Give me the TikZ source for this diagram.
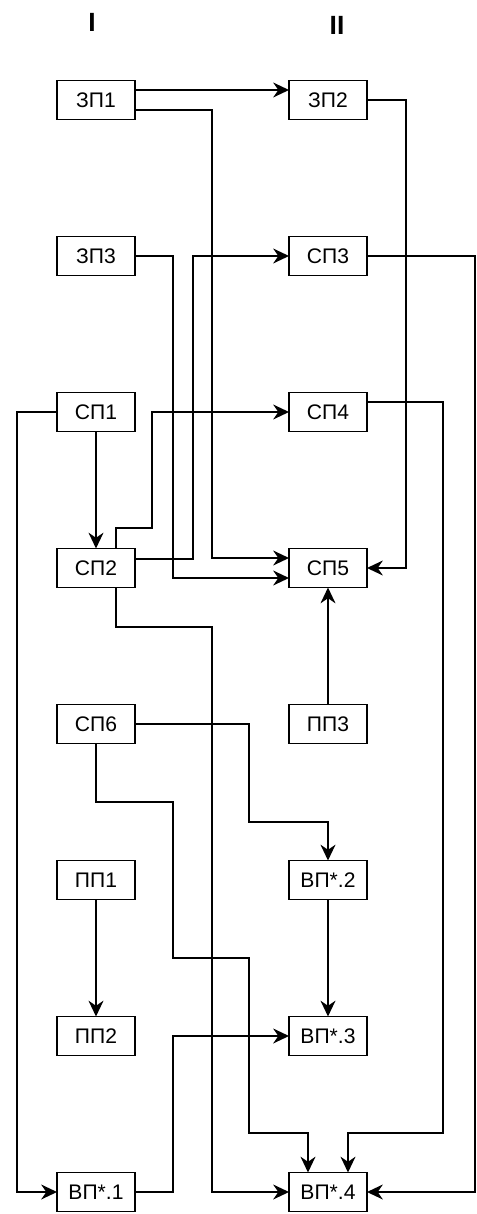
\documentclass[tikz,border=0pt]{standalone}
\usepackage{fontspec}
\setmainfont{Liberation Sans}
\usetikzlibrary{arrows.meta, positioning}
\tikzset{
    box/.style={rectangle, draw, line width=1pt, outer sep=0pt, minimum width=1.56cm, minimum height=0.78cm, text centered, font=\fontsize{12}{14}\selectfont},
    arrow/.style={line width=1pt,-{Stealth[length=9pt,width=8.5pt]}},
    head/.style={font=\fontsize{15}{18}\selectfont\bfseries}
}

\begin{document}
\begin{tikzpicture}[node distance=2.34cm and 3.08cm]
    \useasboundingbox (0,0) rectangle (9.54,-24.28);
    \node (colI) [head] at (1.84,-0.45) {I};
    \node (colII) [head] at (6.74,-0.5) {II};

    \node (zp1) [box] at (1.92,-2.0) {ЗП1};
    \node (zp2) [box, right=of zp1] {ЗП2};
    \node (zp3) [box, below=of zp1] {ЗП3};
    \node (sp3) [box, right=of zp3] {СП3};
    \node (sp1) [box, below=of zp3] {СП1};
    \node (sp4) [box, right=of sp1] {СП4};
    \node (sp2) [box, below=of sp1] {СП2};
    \node (sp5) [box, right=of sp2] {СП5};
    \node (sp6) [box, below=of sp2] {СП6};
    \node (pp3) [box, right=of sp6] {ПП3};
    \node (pp1) [box, below=of sp6] {ПП1};
    \node (vp2) [box, right=of pp1] {ВП*.2};
    \node (pp2) [box, below=of pp1] {ПП2};
    \node (vp3) [box, right=of pp2] {ВП*.3};
    \node (vp1) [box, below=of pp2] {ВП*.1};
    \node (vp4) [box, right=of vp1] {ВП*.4};

    \draw [arrow] ([yshift=0.2cm]zp1.east) -- ([yshift=0.2cm]zp2.west);
    \draw [arrow] ([yshift=-0.2cm]zp1.east) -| (4.24,-11.16) -- ([yshift=0.2cm]sp5.west);
    \draw [arrow] (zp2.east) -| (8.12,-11.36) -- (sp5.east);
    \draw [arrow] (zp3.east) -| (3.46,-11.56) -- ([yshift=-0.2cm]sp5.west);
    \draw [arrow] ([yshift=0.18cm]sp2.east) -| (3.86,-5.12) -- (sp3.west);
    \draw [arrow] (sp3.east) -| (9.5,-23.84) -- (vp4.east);
    \draw [arrow] (sp1.west) -| (0.34,-23.84) -- (vp1.west);
    \draw [arrow] (sp1) -- (sp2);
    \draw [arrow] ([xshift=0.4cm]sp2.north) |- (3.04,-10.56) |- (sp4.west);
    \draw [arrow] ([yshift=0.2cm]sp4.east) -| (8.86,-22.66) -| ([xshift=0.4cm]vp4.north);
    \draw [arrow] ([xshift=0.4cm]sp2.south) |- (4.24,-12.54) |- (vp4.west);
    \draw [arrow] (pp3) -- (sp5);
    \draw [arrow] (sp6.east) -| (4.98,-16.44) -| (vp2.north);
    \draw [arrow] (sp6.south) |- (3.46,-16.04) |- (4.98,-19.16) -- (4.98,-22.66) -| ([xshift=-0.4cm]vp4.north);
    \draw [arrow] (pp1) -- (pp2);
    \draw [arrow] (vp2) -- (vp3);
    \draw [arrow] (vp1.east) -| (3.46,-20.72) -- (vp3.west);
\end{tikzpicture}
\end{document}
